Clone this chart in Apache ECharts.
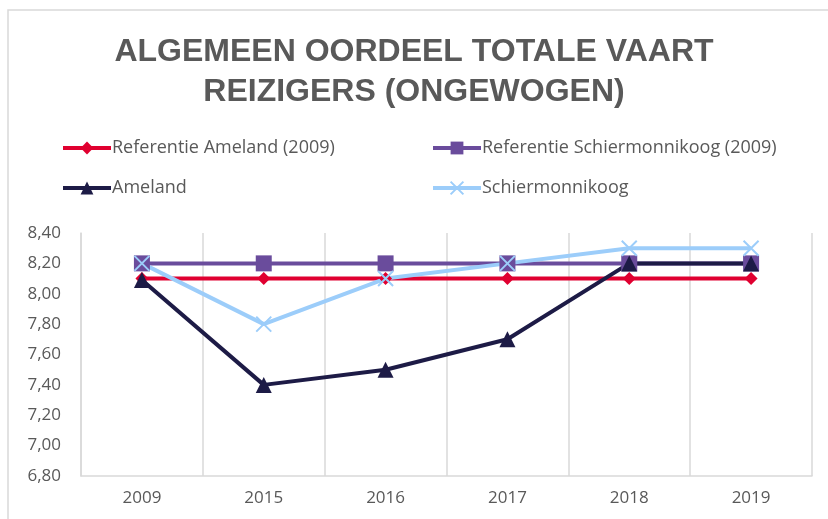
<!DOCTYPE html>
<html>
<head>
<meta charset="utf-8">
<script src="https://cdn.jsdelivr.net/npm/echarts@6/dist/echarts.min.js"></script>
<style>
    html, body { margin: 0; padding: 0; background: #fff; }
    #chart { width: 828px; height: 519px; }
</style>
</head>
<body>
<div id="chart"></div>
<script>
// categorieën (jaren)
const years = ['2009', '2015', '2016', '2017', '2018', '2019']

// reeksen
const refAmeland = [8.10, 8.10, 8.10, 8.10, 8.10, 8.10]
const refSchier = [8.20, 8.20, 8.20, 8.20, 8.20, 8.20]
const ameland = [8.09, 7.40, 7.50, 7.70, 8.20, 8.20]
const schier = [8.20, 7.80, 8.10, 8.20, 8.30, 8.30]

const seriesNames = [
    'Referentie Ameland (2009)',
    'Referentie Schiermonnikoog (2009)',
    'Ameland',
    'Schiermonnikoog'
]

// kruisje als marker
const crossPath = 'path://M0,0L10,10M10,0L0,10'

const chart = echarts.init(document.getElementById('chart'), null, { renderer: 'canvas' })

const lineSeries = (name, data, color, symbol, size, extra = {}) => ({
    name,
    type: 'line',
    data,
    symbol,
    symbolSize: size,
    showSymbol: true,
    lineStyle: { color, width: 4 },
    itemStyle: { color, borderColor: color, borderWidth: 0 },
    emphasis: { disabled: true },
    animation: false,
    ...extra
})

const legendBase = {
    orient: 'vertical',
    top: 134,
    itemGap: 22,
    itemWidth: 48,
    itemHeight: 16,
    lineStyle: { width: 4 },
    textStyle: { fontFamily: 'Open Sans', fontSize: 18, color: '#595959', padding: [0, 0, 0, -4] }
}

chart.setOption({
    backgroundColor: '#fff',
    graphic: [{
        type: 'rect',
        shape: { x: 8, y: 10, width: 840, height: 540 },
        style: { fill: 'none', stroke: '#d9d9d9', lineWidth: 1.5 },
        silent: true
    }],
    title: {
        text: 'ALGEMEEN OORDEEL TOTALE VAART\nREIZIGERS (ONGEWOGEN)',
        left: 'center',
        top: 27,
        textStyle: {
            fontFamily: 'Liberation Sans',
            fontWeight: 'bold',
            fontSize: 32,
            color: '#595959',
            lineHeight: 40
        }
    },
    legend: [
        { ...legendBase, data: [seriesNames[0], seriesNames[2]], left: 56 },
        { ...legendBase, data: [seriesNames[1], seriesNames[3]], left: 426 }
    ],
    grid: { left: 81, right: 16, top: 233, bottom: 43, containLabel: false },
    xAxis: {
        type: 'category',
        data: years,
        boundaryGap: true,
        axisLine: { lineStyle: { color: '#d9d9d9', width: 1.5 } },
        axisTick: { show: false },
        axisLabel: { fontFamily: 'Open Sans', fontSize: 17, color: '#595959', margin: 14 },
        splitLine: { show: true, lineStyle: { color: '#d9d9d9', width: 1.5 } }
    },
    yAxis: {
        type: 'value',
        min: 6.8,
        max: 8.4,
        interval: 0.2,
        axisLine: { show: true, lineStyle: { color: '#d9d9d9', width: 1.5 } },
        axisTick: { show: false },
        splitLine: { show: false },
        axisLabel: {
            fontFamily: 'Open Sans',
            fontSize: 17,
            color: '#595959',
            margin: 20,
            formatter: v => v.toFixed(2).replace('.', ',')
        }
    },
    series: [
        lineSeries(seriesNames[0], refAmeland, '#e00030', 'diamond', 13),
        lineSeries(seriesNames[1], refSchier, '#6a4c9c', 'rect', 16),
        lineSeries(seriesNames[2], ameland, '#1d1b46', 'triangle', 16),
        lineSeries(seriesNames[3], schier, '#9ccdfa', crossPath, 15, {
            itemStyle: { color: 'none', borderColor: '#9ccdfa', borderWidth: 2 }
        })
    ]
})
</script>
</body>
</html>
